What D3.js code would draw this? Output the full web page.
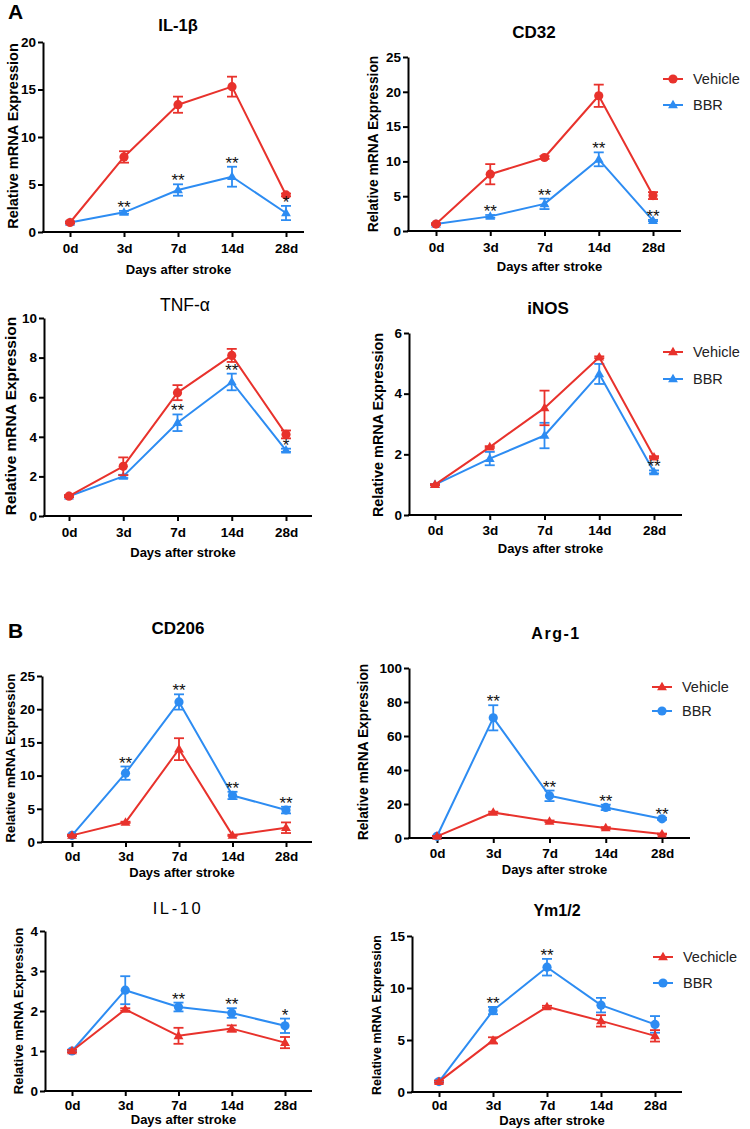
<!DOCTYPE html>
<html><head><meta charset="utf-8">
<script src="https://cdn.jsdelivr.net/npm/d3@7"></script>
<style>body{margin:0;background:#fff}</style>
</head><body>
<svg id="c" width="750" height="1129"></svg>
<script>
// ---------- DATA ----------
const categories = ["0d","3d","7d","14d","28d"];

const il1bVehicle = [1.0, 7.9, 13.4, 15.3, 3.9];
const il1bVehicleErr = [0.1, 0.6, 0.85, 1.05, 0.15];
const il1bBBR = [1.0, 2.07, 4.42, 5.82, 2.0];
const il1bBBRErr = [0.1, 0.15, 0.6, 1.05, 0.75];
const il1bStars = ["", "**", "**", "**", "*"];
const il1bTicks = [0, 5, 10, 15, 20];

const cd32Vehicle = [1.0, 8.16, 10.56, 19.43, 5.09];
const cd32VehicleErr = [0.1, 1.45, 0.2, 1.6, 0.5];
const cd32BBR = [1.0, 2.1, 3.9, 10.3, 1.5];
const cd32BBRErr = [0.1, 0.2, 0.75, 1.0, 0.1];
const cd32Stars = ["", "**", "**", "**", "**"];
const cd32Ticks = [0, 5, 10, 15, 20, 25];

const tnfVehicle = [1.0, 2.51, 6.23, 8.11, 4.12];
const tnfVehicleErr = [0.05, 0.45, 0.38, 0.33, 0.2];
const tnfBBR = [1.0, 2.0, 4.71, 6.77, 3.32];
const tnfBBRErr = [0.05, 0.08, 0.42, 0.42, 0.08];
const tnfStars = ["", "", "**", "**", "*"];
const tnfTicks = [0, 2, 4, 6, 8, 10];

const inosVehicle = [1.0, 2.24, 3.53, 5.2, 1.91];
const inosVehicleErr = [0.02, 0.03, 0.57, 0.03, 0.03];
const inosBBR = [1.0, 1.86, 2.62, 4.65, 1.42];
const inosBBRErr = [0.02, 0.22, 0.42, 0.33, 0.05];
const inosStars = ["", "", "", "", "**"];
const inosTicks = [0, 2, 4, 6];

const cd206Vehicle = [1.0, 2.96, 13.98, 1.0, 2.15];
const cd206VehicleErr = [0.1, 0.1, 1.65, 0.1, 0.8];
const cd206BBR = [1.0, 10.37, 21.09, 7.01, 4.81];
const cd206BBRErr = [0.1, 1.0, 1.15, 0.55, 0.5];
const cd206Stars = ["", "**", "**", "**", "**"];
const cd206Ticks = [0, 5, 10, 15, 20, 25];

const arg1Vehicle = [1.0, 15.0, 9.8, 5.9, 2.3];
const arg1VehicleErr = [0.2, 0.5, 0.5, 0.5, 0.3];
const arg1BBR = [1.0, 70.7, 24.8, 18.0, 11.3];
const arg1BBRErr = [0.3, 7.4, 3.1, 1.6, 0.6];
const arg1Stars = ["", "**", "**", "**", "**"];
const arg1Ticks = [0, 20, 40, 60, 80, 100];

const il10Vehicle = [1.0, 2.04, 1.38, 1.56, 1.21];
const il10VehicleErr = [0.03, 0.03, 0.2, 0.08, 0.14];
const il10BBR = [1.0, 2.52, 2.1, 1.95, 1.63];
const il10BBRErr = [0.03, 0.35, 0.11, 0.12, 0.18];
const il10Stars = ["", "", "**", "**", "*"];
const il10Ticks = [0, 1, 2, 3, 4];

const ymVehicle = [1.0, 4.96, 8.19, 6.84, 5.4];
const ymVehicleErr = [0.1, 0.3, 0.1, 0.55, 0.55];
const ymBBR = [1.0, 7.83, 12.0, 8.35, 6.5];
const ymBBRErr = [0.1, 0.35, 0.8, 0.7, 0.8];
const ymStars = ["", "**", "**", "", ""];
const ymTicks = [0, 5, 10, 15];

const titles = ["IL-1β", "CD32", "TNF-α", "iNOS", "CD206", "Arg-1", "IL-10", "Ym1/2"];
const legendLabelsA = ["Vehicle", "BBR"];
const legendLabelsB = ["Vehicle", "BBR"];
const legendLabelsYm = ["Vechicle", "BBR"];
const yAxisLabel = "Relative mRNA Expression";
const xAxisLabel = "Days after stroke";

// ---------- STYLE / LAYOUT ----------
const RED = "#e8322c", BLUE = "#2d8cf2";
const FONT = "'Liberation Sans', Arial, Helvetica, sans-serif";
const svg = d3.select("#c");

const panels = [
  {title: titles[0], veh: il1bVehicle, vehErr: il1bVehicleErr, bbr: il1bBBR, bbrErr: il1bBBRErr, stars: il1bStars, ticks: il1bTicks,
   vehShape: "circle", bbrShape: "tri",
   ax: 43, x0: 70, x1: 286, xEnd: 304, y0: 232, yTop: 42, titleX: 178, titleY: 25, titleStyle: {size: 16.5, weight: "bold", ls: 0},
   ylx: 13, yly: 136, ylSize: 14.5, tickY: 248, daysY: 269, legend: null},
  {title: titles[1], veh: cd32Vehicle, vehErr: cd32VehicleErr, bbr: cd32BBR, bbrErr: cd32BBRErr, stars: cd32Stars, ticks: cd32Ticks,
   vehShape: "circle", bbrShape: "tri",
   ax: 408, x0: 436, x1: 653, xEnd: 681, y0: 231, yTop: 57, titleX: 534, titleY: 32, titleStyle: {size: 17, weight: "bold", ls: 0},
   ylx: 373, yly: 144, ylSize: 13.8, tickY: 247, daysY: 266, legend: {mx: 673, y1: 79, y2: 105, labels: legendLabelsA}},
  {title: titles[2], veh: tnfVehicle, vehErr: tnfVehicleErr, bbr: tnfBBR, bbrErr: tnfBBRErr, stars: tnfStars, ticks: tnfTicks,
   vehShape: "circle", bbrShape: "tri",
   ax: 44, x0: 69, x1: 286, xEnd: 312, y0: 516, yTop: 318, titleX: 185, titleY: 305, titleStyle: {size: 17.5, weight: "normal", ls: 0},
   ylx: 10, yly: 416, ylSize: 15.5, tickY: 532, daysY: 552, legend: null},
  {title: titles[3], veh: inosVehicle, vehErr: inosVehicleErr, bbr: inosBBR, bbrErr: inosBBRErr, stars: inosStars, ticks: inosTicks,
   vehShape: "tri", bbrShape: "tri",
   ax: 409, x0: 435, x1: 654, xEnd: 682, y0: 515, yTop: 333, titleX: 548, titleY: 308, titleStyle: {size: 17, weight: "bold", ls: 0},
   ylx: 378, yly: 425, ylSize: 14.4, tickY: 530, daysY: 548, legend: {mx: 673, y1: 352, y2: 379, labels: legendLabelsA}},
  {title: titles[4], veh: cd206Vehicle, vehErr: cd206VehicleErr, bbr: cd206BBR, bbrErr: cd206BBRErr, stars: cd206Stars, ticks: cd206Ticks,
   vehShape: "tri", bbrShape: "circle",
   ax: 42, x0: 72, x1: 286, xEnd: 312, y0: 842, yTop: 676, titleX: 178, titleY: 628, titleStyle: {size: 17, weight: "bold", ls: 0},
   ylx: 10, yly: 758, ylSize: 13.2, tickY: 856, daysY: 872, legend: null},
  {title: titles[5], veh: arg1Vehicle, vehErr: arg1VehicleErr, bbr: arg1BBR, bbrErr: arg1BBRErr, stars: arg1Stars, ticks: arg1Ticks,
   vehShape: "tri", bbrShape: "circle",
   ax: 409, x0: 437, x1: 662, xEnd: 690, y0: 838, yTop: 668, titleX: 556, titleY: 633, titleStyle: {size: 16, weight: "bold", ls: 1.5},
   ylx: 363, yly: 752, ylSize: 13.8, tickY: 853, daysY: 869, legend: {mx: 662, y1: 687, y2: 711, labels: legendLabelsB}},
  {title: titles[6], veh: il10Vehicle, vehErr: il10VehicleErr, bbr: il10BBR, bbrErr: il10BBRErr, stars: il10Stars, ticks: il10Ticks,
   vehShape: "tri", bbrShape: "circle",
   ax: 45, x0: 72, x1: 285, xEnd: 312, y0: 1091, yTop: 931, titleX: 178, titleY: 908, titleStyle: {size: 16.5, weight: "normal", ls: 2.6},
   ylx: 18, yly: 1011, ylSize: 13, tickY: 1105, daysY: 1119, legend: null},
  {title: titles[7], veh: ymVehicle, vehErr: ymVehicleErr, bbr: ymBBR, bbrErr: ymBBRErr, stars: ymStars, ticks: ymTicks,
   vehShape: "tri", bbrShape: "circle",
   ax: 412, x0: 439, x1: 655, xEnd: 682, y0: 1092, yTop: 936, titleX: 557, titleY: 910, titleStyle: {size: 16, weight: "bold", ls: 0},
   ylx: 377, yly: 1015, ylSize: 12.5, tickY: 1105, daysY: 1120, legend: {mx: 663, y1: 957, y2: 983, labels: legendLabelsYm}}
];

function marker(g, shape, cx, cy, color) {
  if (shape === "circle") {
    g.append("circle").attr("cx", cx).attr("cy", cy).attr("r", 4.6).attr("fill", color);
  } else {
    g.append("path").attr("d", d3.symbol(d3.symbolTriangle, 42)())
      .attr("transform", `translate(${cx},${cy + 0.5})`).attr("fill", color);
  }
}

function drawSeries(g, x, y, vals, errs, color, shape) {
  const line = d3.line().x((d, i) => x(categories[i])).y(d => y(d));
  g.append("path").datum(vals).attr("d", line).attr("fill", "none")
    .attr("stroke", color).attr("stroke-width", 2).attr("stroke-linejoin", "round");
  vals.forEach((v, i) => {
    const cx = x(categories[i]);
    const yt = y(v + errs[i]), yb = y(v - errs[i]);
    const eg = g.append("g").attr("stroke", color).attr("stroke-width", 1.8);
    eg.append("line").attr("x1", cx).attr("x2", cx).attr("y1", yt).attr("y2", yb);
    eg.append("line").attr("x1", cx - 5).attr("x2", cx + 5).attr("y1", yt).attr("y2", yt);
    eg.append("line").attr("x1", cx - 5).attr("x2", cx + 5).attr("y1", yb).attr("y2", yb);
    marker(g, shape, cx, y(v), color);
  });
}

function drawPanel(p) {
  const g = svg.append("g");
  const x = d3.scalePoint().domain(categories).range([p.x0, p.x1]);
  const ymax = p.ticks[p.ticks.length - 1];
  const y = d3.scaleLinear().domain([0, ymax]).range([p.y0, p.yTop]);

  // y axis
  const yAx = g.append("g").attr("transform", `translate(${p.ax},0)`)
    .call(d3.axisLeft(y).tickValues(p.ticks).tickFormat(d3.format("d"))
      .tickSize(5).tickSizeOuter(0).tickPadding(2));
  yAx.select(".domain").attr("stroke", "#000").attr("stroke-width", 2);
  yAx.selectAll(".tick line").attr("stroke", "#000").attr("stroke-width", 2);
  yAx.selectAll(".tick text").attr("font-family", FONT).attr("font-size", 13.5)
    .attr("font-weight", "bold").attr("fill", "#000");

  // x axis
  const xAx = g.append("g").attr("transform", `translate(0,${p.y0})`)
    .call(d3.axisBottom(x).tickSize(5).tickSizeOuter(0).tickPadding(3));
  xAx.select(".domain").remove();
  xAx.append("line").attr("x1", p.ax - 1).attr("x2", p.xEnd).attr("y1", 0).attr("y2", 0)
    .attr("stroke", "#000").attr("stroke-width", 2);
  xAx.selectAll(".tick line").attr("stroke", "#000").attr("stroke-width", 2);
  xAx.selectAll(".tick text").attr("font-family", FONT).attr("font-size", 13.5)
    .attr("font-weight", "bold").attr("fill", "#000").attr("y", null).attr("dy", null)
    .attr("dominant-baseline", "central").attr("transform", `translate(0,${p.tickY - p.y0})`);

  // axis labels
  g.append("text").attr("x", (p.ax + p.xEnd) / 2 + 5).attr("y", p.daysY)
    .attr("text-anchor", "middle").attr("dominant-baseline", "central")
    .attr("font-family", FONT).attr("font-size", 13).attr("font-weight", "bold").text(xAxisLabel);
  g.append("text").attr("transform", `translate(${p.ylx},${p.yly}) rotate(-90)`)
    .attr("text-anchor", "middle").attr("dominant-baseline", "central")
    .attr("font-family", FONT).attr("font-size", p.ylSize).attr("font-weight", "bold").text(yAxisLabel);

  // title
  g.append("text").attr("x", p.titleX).attr("y", p.titleY)
    .attr("text-anchor", "middle").attr("dominant-baseline", "central")
    .attr("font-family", FONT).attr("font-size", p.titleStyle.size)
    .attr("font-weight", p.titleStyle.weight).attr("letter-spacing", p.titleStyle.ls).text(p.title);

  // series
  drawSeries(g, x, y, p.bbr, p.bbrErr, BLUE, p.bbrShape);
  drawSeries(g, x, y, p.veh, p.vehErr, RED, p.vehShape);

  // significance stars
  p.stars.forEach((s, i) => {
    if (!s) return;
    g.append("text").attr("x", x(categories[i])).attr("y", y(p.bbr[i] + p.bbrErr[i]) + 2)
      .attr("text-anchor", "middle").attr("font-family", FONT).attr("font-size", 17)
      .attr("fill", "#111").text(s);
  });

  // legend
  if (p.legend) {
    const L = p.legend;
    [[RED, p.vehShape, L.y1, L.labels[0]], [BLUE, p.bbrShape, L.y2, L.labels[1]]].forEach(([c, sh, ly, lab]) => {
      g.append("line").attr("x1", L.mx - 10).attr("x2", L.mx + 10).attr("y1", ly).attr("y2", ly)
        .attr("stroke", c).attr("stroke-width", 2);
      marker(g, sh, L.mx, ly, c);
      g.append("text").attr("x", L.mx + 20).attr("y", ly).attr("dominant-baseline", "central")
        .attr("font-family", FONT).attr("font-size", 14.5).attr("fill", "#222").text(lab);
    });
  }
}

panels.forEach(drawPanel);

// panel letters
svg.append("text").attr("x", 8).attr("y", 19).attr("font-family", FONT).attr("font-size", 21)
  .attr("font-weight", "bold").text("A");
svg.append("text").attr("x", 8).attr("y", 638).attr("font-family", FONT).attr("font-size", 21)
  .attr("font-weight", "bold").text("B");
</script>
</body></html>
